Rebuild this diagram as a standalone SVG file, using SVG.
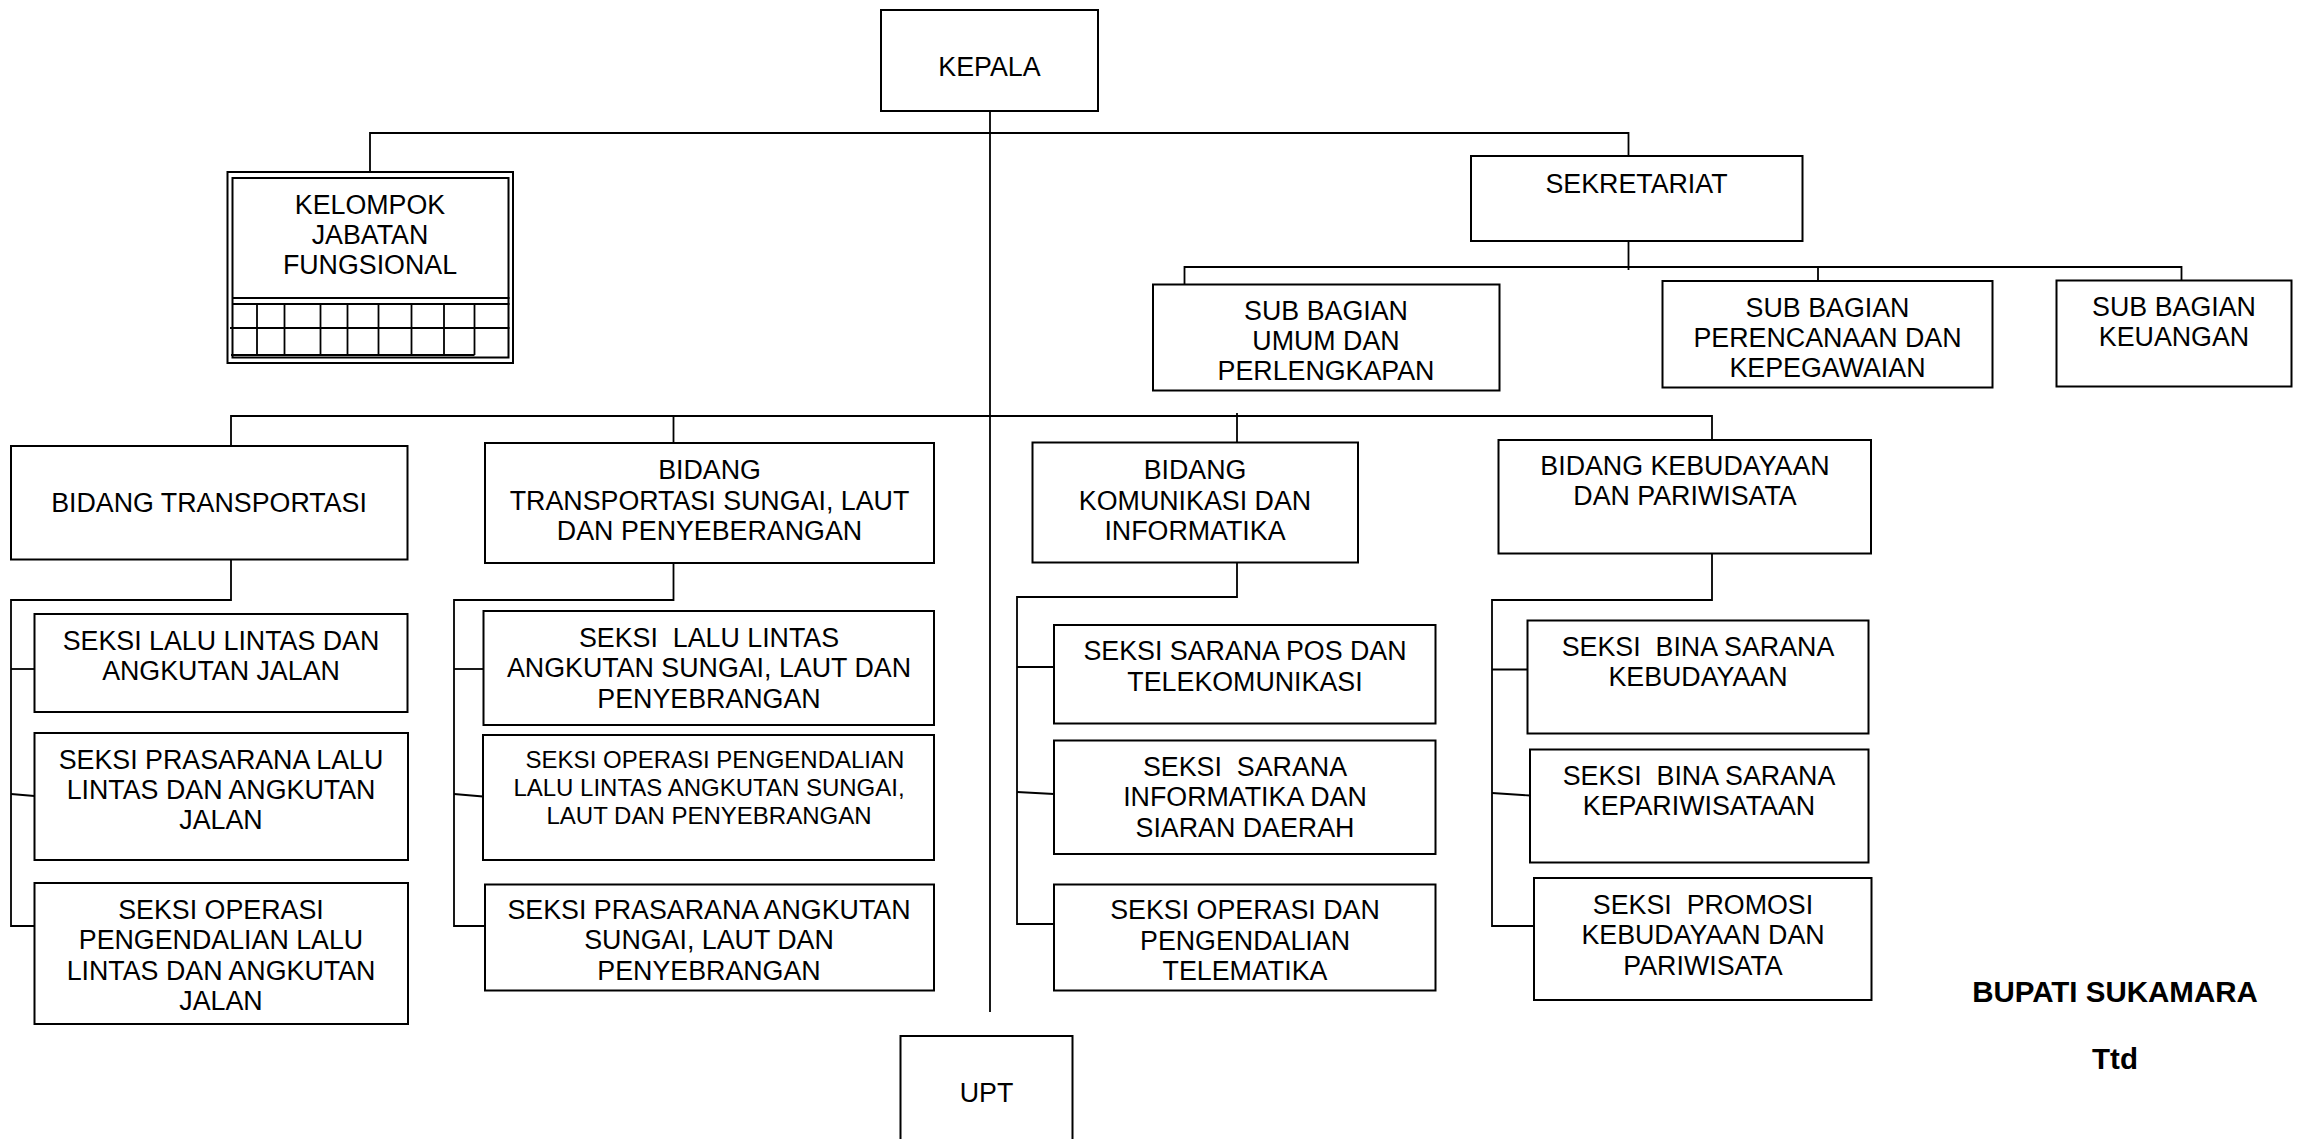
<svg xmlns="http://www.w3.org/2000/svg" width="2301" height="1139" viewBox="0 0 2301 1139">
<style>
  .box { fill: #fff; stroke: #000; stroke-width: 2; }
  .ln { fill: none; stroke: #000; stroke-width: 1.8; }
  .t { font-family: "Liberation Sans", Arial, sans-serif; font-size: 26.8px; fill: #000; text-anchor: middle; }
  .ts { font-size: 24px; }
  .b { font-family: "Liberation Sans", Arial, sans-serif; font-size: 29.5px; font-weight: bold; fill: #000; text-anchor: middle; }
</style>
<rect width="2301" height="1139" fill="#fff"/>

<g id="connectors">
  <line class="ln" x1="990" y1="111" x2="990" y2="1012"/>
  <polyline class="ln" points="370,178 370,133 1628.5,133 1628.5,156"/>
  <line class="ln" x1="1628.5" y1="241" x2="1628.5" y2="270"/>
  <polyline class="ln" points="1184.5,284 1184.5,267 2181.5,267 2181.5,281"/>
  <line class="ln" x1="1818" y1="267" x2="1818" y2="281"/>
  <polyline class="ln" points="231,446 231,416 1712,416 1712,440"/>
  <line class="ln" x1="673.5" y1="416" x2="673.5" y2="443"/>
  <line class="ln" x1="1237" y1="413" x2="1237" y2="443"/>
  <!-- column 1 -->
  <polyline class="ln" points="231,559 231,600 11,600 11,926 34.5,926"/>
  <line class="ln" x1="11" y1="669" x2="34.5" y2="669"/>
  <line class="ln" x1="11" y1="794" x2="34.5" y2="796"/>
  <!-- column 2 -->
  <polyline class="ln" points="673.5,563 673.5,600 454,600 454,926 485,926"/>
  <line class="ln" x1="454" y1="669" x2="483.5" y2="669"/>
  <line class="ln" x1="454" y1="794" x2="483" y2="796.5"/>
  <!-- column 3 -->
  <polyline class="ln" points="1237,563 1237,597 1017,597 1017,924 1054,924"/>
  <line class="ln" x1="1017" y1="667" x2="1054" y2="667"/>
  <line class="ln" x1="1017" y1="792" x2="1054" y2="794"/>
  <!-- column 4 -->
  <polyline class="ln" points="1712,553 1712,600 1492,600 1492,926 1534,926"/>
  <line class="ln" x1="1492" y1="669.5" x2="1527.5" y2="669.5"/>
  <line class="ln" x1="1492" y1="793" x2="1530" y2="795.5"/>
</g>

<g id="kepala">
  <rect class="box" x="881" y="10" width="217" height="101"/>
  <text class="t" x="989.5" y="76">KEPALA</text>
</g>

<g id="kelompok-jabatan-fungsional">
  <rect class="box" x="227.5" y="172" width="285.5" height="191"/>
  <rect class="box" x="232.5" y="178" width="276" height="179.5"/>
  <text class="t" x="370" y="214">KELOMPOK</text>
  <text class="t" x="370" y="244">JABATAN</text>
  <text class="t" x="370" y="274">FUNGSIONAL</text>
  <line class="ln" x1="232.5" y1="298" x2="509.5" y2="298" stroke-width="2.2"/>
  <line class="ln" x1="232.5" y1="304" x2="509.5" y2="304" stroke-width="2.2"/>
  <line class="ln" x1="230" y1="328" x2="509.5" y2="328"/>
  <line class="ln" x1="257" y1="304" x2="257" y2="355"/>
  <line class="ln" x1="284.5" y1="304" x2="284.5" y2="355"/>
  <line class="ln" x1="320.5" y1="304" x2="320.5" y2="355"/>
  <line class="ln" x1="347.5" y1="304" x2="347.5" y2="355"/>
  <line class="ln" x1="378.5" y1="304" x2="378.5" y2="355"/>
  <line class="ln" x1="411.5" y1="304" x2="411.5" y2="355"/>
  <line class="ln" x1="444" y1="304" x2="444" y2="355"/>
  <line class="ln" x1="474.5" y1="304" x2="474.5" y2="355"/>
  <line class="ln" x1="231" y1="355" x2="474.5" y2="355" stroke-width="2.6"/>
</g>

<g id="sekretariat">
  <rect class="box" x="1471" y="156" width="331.5" height="85"/>
  <text class="t" x="1636.5" y="193">SEKRETARIAT</text>
</g>

<g id="sub-bagian-umum">
  <rect class="box" x="1153" y="284.5" width="346.5" height="106"/>
  <text class="t" x="1326" y="320">SUB BAGIAN</text>
  <text class="t" x="1326" y="350">UMUM DAN</text>
  <text class="t" x="1326" y="380">PERLENGKAPAN</text>
</g>

<g id="sub-bagian-perencanaan">
  <rect class="box" x="1662.5" y="281" width="330" height="106.5"/>
  <text class="t" x="1827.5" y="317">SUB BAGIAN</text>
  <text class="t" x="1827.5" y="347">PERENCANAAN DAN</text>
  <text class="t" x="1827.5" y="377">KEPEGAWAIAN</text>
</g>

<g id="sub-bagian-keuangan">
  <rect class="box" x="2056.5" y="280.5" width="235" height="106"/>
  <text class="t" x="2174" y="315.5">SUB BAGIAN</text>
  <text class="t" x="2174" y="346">KEUANGAN</text>
</g>

<g id="bidang-transportasi">
  <rect class="box" x="11" y="446" width="396.5" height="113.5"/>
  <text class="t" x="209" y="512">BIDANG TRANSPORTASI</text>
</g>

<g id="bidang-transportasi-sungai">
  <rect class="box" x="485" y="443" width="449" height="120"/>
  <text class="t" x="709.5" y="479">BIDANG</text>
  <text class="t" x="709.5" y="509.5">TRANSPORTASI SUNGAI, LAUT</text>
  <text class="t" x="709.5" y="540">DAN PENYEBERANGAN</text>
</g>

<g id="bidang-komunikasi">
  <rect class="box" x="1032.5" y="442.5" width="325.5" height="120"/>
  <text class="t" x="1195" y="479">BIDANG</text>
  <text class="t" x="1195" y="509.5">KOMUNIKASI DAN</text>
  <text class="t" x="1195" y="540">INFORMATIKA</text>
</g>

<g id="bidang-kebudayaan">
  <rect class="box" x="1498.5" y="440" width="372.5" height="113.5"/>
  <text class="t" x="1685" y="474.5">BIDANG KEBUDAYAAN</text>
  <text class="t" x="1685" y="505">DAN PARIWISATA</text>
</g>

<g id="seksi-lalu-lintas-angkutan-jalan">
  <rect class="box" x="34.5" y="614" width="373" height="98"/>
  <text class="t" x="221" y="649.5">SEKSI LALU LINTAS DAN</text>
  <text class="t" x="221" y="680">ANGKUTAN JALAN</text>
</g>

<g id="seksi-prasarana-lalu-lintas">
  <rect class="box" x="34.5" y="733" width="373.5" height="127"/>
  <text class="t" x="221" y="768.5">SEKSI PRASARANA LALU</text>
  <text class="t" x="221" y="798.5">LINTAS DAN ANGKUTAN</text>
  <text class="t" x="221" y="829">JALAN</text>
</g>

<g id="seksi-operasi-pengendalian-llaj">
  <rect class="box" x="34.5" y="883" width="373.5" height="141"/>
  <text class="t" x="221" y="918.5">SEKSI OPERASI</text>
  <text class="t" x="221" y="948.5">PENGENDALIAN LALU</text>
  <text class="t" x="221" y="979.5">LINTAS DAN ANGKUTAN</text>
  <text class="t" x="221" y="1010">JALAN</text>
</g>

<g id="seksi-lalu-lintas-angkutan-sungai">
  <rect class="box" x="483.5" y="611" width="450.5" height="114"/>
  <text class="t" x="709" y="647" xml:space="preserve">SEKSI  LALU LINTAS</text>
  <text class="t" x="709" y="677">ANGKUTAN SUNGAI, LAUT DAN</text>
  <text class="t" x="709" y="707.5">PENYEBRANGAN</text>
</g>

<g id="seksi-operasi-pengendalian-sungai">
  <rect class="box" x="483" y="735" width="451" height="125"/>
  <text class="t ts" x="715" y="767.5">SEKSI OPERASI PENGENDALIAN</text>
  <text class="t ts" x="709" y="795.5">LALU LINTAS ANGKUTAN SUNGAI,</text>
  <text class="t ts" x="709" y="823.5">LAUT DAN PENYEBRANGAN</text>
</g>

<g id="seksi-prasarana-angkutan-sungai">
  <rect class="box" x="485" y="884.5" width="449" height="106"/>
  <text class="t" x="709" y="918.5">SEKSI PRASARANA ANGKUTAN</text>
  <text class="t" x="709" y="949">SUNGAI, LAUT DAN</text>
  <text class="t" x="709" y="980">PENYEBRANGAN</text>
</g>

<g id="seksi-sarana-pos">
  <rect class="box" x="1054" y="625" width="381.5" height="98.5"/>
  <text class="t" x="1245" y="660">SEKSI SARANA POS DAN</text>
  <text class="t" x="1245" y="690.5">TELEKOMUNIKASI</text>
</g>

<g id="seksi-sarana-informatika">
  <rect class="box" x="1054" y="740.5" width="381.5" height="113.5"/>
  <text class="t" x="1245" y="775.5" xml:space="preserve">SEKSI  SARANA</text>
  <text class="t" x="1245" y="806">INFORMATIKA DAN</text>
  <text class="t" x="1245" y="837">SIARAN DAERAH</text>
</g>

<g id="seksi-operasi-telematika">
  <rect class="box" x="1054" y="884.5" width="381.5" height="106"/>
  <text class="t" x="1245" y="918.5">SEKSI OPERASI DAN</text>
  <text class="t" x="1245" y="949.5">PENGENDALIAN</text>
  <text class="t" x="1245" y="980">TELEMATIKA</text>
</g>

<g id="seksi-bina-sarana-kebudayaan">
  <rect class="box" x="1527.5" y="620.5" width="341" height="113"/>
  <text class="t" x="1698" y="655.5" xml:space="preserve">SEKSI  BINA SARANA</text>
  <text class="t" x="1698" y="686">KEBUDAYAAN</text>
</g>

<g id="seksi-bina-sarana-kepariwisataan">
  <rect class="box" x="1530" y="749.5" width="338.5" height="113"/>
  <text class="t" x="1699" y="784.5" xml:space="preserve">SEKSI  BINA SARANA</text>
  <text class="t" x="1699" y="815">KEPARIWISATAAN</text>
</g>

<g id="seksi-promosi">
  <rect class="box" x="1534" y="878" width="337.5" height="122"/>
  <text class="t" x="1703" y="913.5" xml:space="preserve">SEKSI  PROMOSI</text>
  <text class="t" x="1703" y="944">KEBUDAYAAN DAN</text>
  <text class="t" x="1703" y="974.5">PARIWISATA</text>
</g>

<g id="upt">
  <rect class="box" x="900.5" y="1036" width="172" height="120"/>
  <text class="t" x="986.5" y="1102">UPT</text>
</g>

<g id="signature">
  <text class="b" x="2115" y="1002">BUPATI SUKAMARA</text>
  <text class="b" x="2115" y="1069">Ttd</text>
</g>
</svg>
